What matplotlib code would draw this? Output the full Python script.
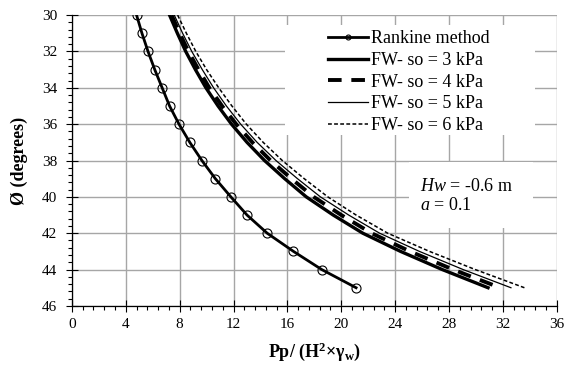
import matplotlib
matplotlib.use('Agg')
import matplotlib.pyplot as plt
from matplotlib.ticker import MultipleLocator
from matplotlib.patches import Rectangle

plt.rcParams['font.family'] = ['Liberation Serif', 'DejaVu Serif']
plt.rcParams['mathtext.fontset'] = 'custom'
plt.rcParams['mathtext.rm'] = 'Liberation Serif'
plt.rcParams['mathtext.it'] = 'Liberation Serif:italic'
plt.rcParams['mathtext.bf'] = 'Liberation Serif:bold'

# friction angle (degrees)
phi = [30, 31, 32, 33, 34, 35, 36, 37, 38, 39, 40, 41, 42, 43, 44, 45]

# Pp / (H^2 * gamma_w)
rankine = [4.8, 5.2, 5.65, 6.15, 6.7, 7.25, 7.95, 8.75, 9.65, 10.65, 11.8, 13.0, 14.5, 16.45, 18.55, 21.1]
fw_so3 = [7.25, 7.83, 8.45, 9.17, 9.95, 10.85, 11.85, 13.0, 14.3, 15.8, 17.4, 19.4, 21.6, 24.4, 27.5, 30.9]
fw_so4 = [7.4, 8.0, 8.65, 9.4, 10.2, 11.15, 12.2, 13.4, 14.75, 16.3, 17.95, 20.0, 22.25, 25.1, 28.3, 31.8]
fw_so5 = [7.6, 8.22, 8.9, 9.68, 10.52, 11.47, 12.53, 13.75, 15.15, 16.75, 18.45, 20.55, 22.85, 25.8, 29.05, 32.6]
fw_so6 = [7.85, 8.5, 9.2, 10.0, 10.9, 11.88, 12.95, 14.2, 15.62, 17.25, 19.0, 21.1, 23.45, 26.55, 29.95, 33.6]

fig = plt.figure(figsize=(5.71, 3.69), dpi=100)
ax = fig.add_axes([0.126, 0.171, 0.849, 0.788])

ax.plot(rankine, phi, color='black', lw=2.0, marker='o', ms=6.5, mfc='none', mew=0.8,
        label='Rankine method', zorder=3)
ax.plot(fw_so3, phi, color='black', lw=2.4, label='FW- so = 3 kPa', zorder=3)
ax.plot(fw_so4, phi, color='black', lw=2.8, dashes=(3.5, 2.5), label='FW- so = 4 kPa', zorder=3)
ax.plot(fw_so5, phi, color='black', lw=0.9, label='FW- so = 5 kPa', zorder=3)
ax.plot(fw_so6, phi, color='black', lw=1.1, dashes=(2.5, 1.5), label='FW- so = 6 kPa', zorder=3)

ax.set_xlim(0, 36)
ax.set_ylim(46, 30)
ax.xaxis.set_major_locator(MultipleLocator(4))
ax.xaxis.set_minor_locator(MultipleLocator(0.8))
ax.yaxis.set_major_locator(MultipleLocator(2))
ax.yaxis.set_minor_locator(MultipleLocator(0.4))
ax.tick_params(which='major', direction='inout', length=9, width=0.8, labelsize=11)
ax.tick_params(axis='y', which='major', pad=6)
ax.tick_params(axis='x', which='major', pad=4)
ax.tick_params(which='minor', direction='out', length=3, width=0.8)
ax.grid(True, which='major', color='#a6a6a6', lw=1.0)
ax.set_axisbelow(True)
for s in ['top', 'right']:
    ax.spines[s].set_visible(False)
for s in ['left', 'bottom']:
    ax.spines[s].set_linewidth(0.9)

ax.set_xlabel('Pp/ (H$\\mathbf{^2}$×γ$\\mathbf{_w}$)', fontsize=13, fontweight='bold', labelpad=7)
ax.set_ylabel('Ø (degrees)', fontsize=13, fontweight='bold', labelpad=10)

# white panels behind legend and note (cover the gridlines)
ax.add_patch(Rectangle((0.439, 0.588), 0.516, 0.378, transform=ax.transAxes,
                       facecolor='white', edgecolor='none', zorder=1.5))
ax.add_patch(Rectangle((0.695, 0.268), 0.256, 0.227, transform=ax.transAxes,
                       facecolor='white', edgecolor='none', zorder=1.5))

leg = ax.legend(loc='upper left', bbox_to_anchor=(0.528, 0.948), fontsize=13,
                handlelength=2.2, handletextpad=0.2, labelspacing=0.26,
                markerscale=0.55, frameon=False, borderpad=0, borderaxespad=0)

ax.text(0.717, 0.378, '$\\mathit{Hw}$ = -0.6 m\n$\\mathit{a}$ = 0.1', transform=ax.transAxes,
        fontsize=13, va='center', ha='left', linespacing=1.2, zorder=4)

fig.savefig('out.png', dpi=100)
